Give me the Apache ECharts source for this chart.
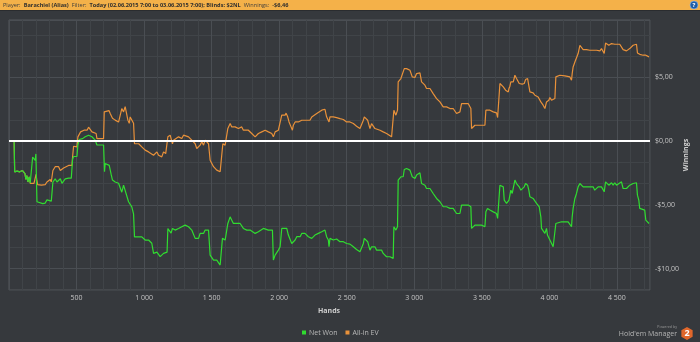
<!DOCTYPE html>
<html><head><meta charset="utf-8">
<script src="https://cdn.jsdelivr.net/npm/echarts@6/dist/echarts.min.js"></script>
<style>html,body{margin:0;padding:0;background:#36393d;}#c{width:700px;height:342px;}</style>
</head><body><div id="c"></div><script>
// ---- data (hands, winnings $) ----
const seriesNames = ['Net Won', 'All-in EV'];
const netWon = [[0,0],[38,0],[42,-2.4],[60,-2.35],[80,-2.4],[100,-2.3],[108,-2.4],[118,-2.55],[125,-3.0],[132,-2.7],[140,-3.2],[150,-2.8],[157,-3.3],[170,-3.45],[175,-1.25],[185,-1.1],[194,-1.5],[199,-1.0],[205,-1.1],[207,-4.75],[215,-4.9],[250,-4.9],[268,-4.85],[281,-4.6],[293,-4.5],[313,-4.7],[320,-4.7],[325,-3.2],[342,-2.95],[355,-3.2],[367,-3.3],[380,-2.95],[392,-3.3],[404,-3.2],[416,-2.95],[428,-2.8],[441,-2.9],[461,-2.9],[471,-1.4],[478,-1.2],[503,-1.2],[510,-0.3],[520,0.13],[545,0.2],[564,0.35],[589,0.47],[601,0.6],[614,0.35],[626,0.2],[638,0.08],[651,-0.3],[700,-0.3],[707,-2.4],[712,-1.75],[742,-1.9],[757,-2.65],[766,-3.05],[786,-3.2],[811,-3.3],[823,-3.3],[835,-4.0],[848,-3.45],[860,-3.6],[885,-4.75],[897,-4.9],[909,-5.15],[922,-5.7],[929,-7.5],[983,-7.5],[995,-7.6],[1008,-7.75],[1033,-7.75],[1057,-8.0],[1070,-8.8],[1082,-8.95],[1095,-8.7],[1107,-8.7],[1119,-9.05],[1131,-9.2],[1144,-8.8],[1170,-8.7],[1176,-6.85],[1186,-6.7],[1200,-7.2],[1210,-6.84],[1230,-6.97],[1255,-6.84],[1279,-6.71],[1304,-6.58],[1329,-6.71],[1341,-6.84],[1353,-6.97],[1366,-7.1],[1378,-7.62],[1390,-7.75],[1403,-7.62],[1415,-7.23],[1427,-7.36],[1440,-7.23],[1452,-6.97],[1464,-7.1],[1477,-6.97],[1489,-8.93],[1501,-9.06],[1514,-9.32],[1526,-9.45],[1538,-9.32],[1551,-9.45],[1563,-9.71],[1575,-9.84],[1580,-7.62],[1600,-7.75],[1612,-7.62],[1620,-6.45],[1629,-6.32],[1637,-5.93],[1649,-6.19],[1661,-6.45],[1674,-6.32],[1686,-6.45],[1698,-6.58],[1711,-6.45],[1723,-6.58],[1735,-6.84],[1748,-6.71],[1760,-6.97],[1772,-6.84],[1785,-6.97],[1797,-7.1],[1822,-7.23],[1834,-7.36],[1846,-7.1],[1859,-6.97],[1883,-6.84],[1920,-6.97],[1950,-6.97],[1957,-9.32],[1970,-8.93],[1982,-8.8],[1994,-8.54],[2007,-8.28],[2019,-6.84],[2031,-6.71],[2056,-6.84],[2068,-7.36],[2081,-7.49],[2093,-8.02],[2105,-7.88],[2118,-7.75],[2130,-7.49],[2142,-7.36],[2155,-7.49],[2167,-7.23],[2191,-7.23],[2216,-7.49],[2241,-7.62],[2265,-7.36],[2290,-7.23],[2315,-7.1],[2339,-6.97],[2351,-7.49],[2364,-7.75],[2369,-8.28],[2376,-7.62],[2401,-7.75],[2425,-7.67],[2450,-7.88],[2475,-7.88],[2499,-8.02],[2524,-8.07],[2536,-8.15],[2549,-8.28],[2561,-8.41],[2573,-8.49],[2586,-8.54],[2598,-8.67],[2610,-8.67],[2623,-8.02],[2630,-7.62],[2640,-7.75],[2655,-7.88],[2672,-8.54],[2684,-8.28],[2697,-8.15],[2709,-8.28],[2721,-8.54],[2734,-8.67],[2758,-8.54],[2770,-8.8],[2783,-8.8],[2795,-9.06],[2807,-8.93],[2820,-9.06],[2832,-9.19],[2844,-9.19],[2849,-6.71],[2857,-6.58],[2864,-6.97],[2876,-6.71],[2881,-3.05],[2894,-3.05],[2901,-2.79],[2911,-2.92],[2918,-2.79],[2926,-2.22],[2943,-2.14],[2955,-2.22],[2968,-2.27],[2980,-2.14],[2985,-2.79],[3005,-2.92],[3017,-2.66],[3029,-2.53],[3042,-2.48],[3054,-3.32],[3066,-3.32],[3079,-3.45],[3091,-3.71],[3103,-3.84],[3116,-3.71],[3128,-3.84],[3140,-4.1],[3153,-4.1],[3165,-4.49],[3177,-4.36],[3190,-4.75],[3202,-4.88],[3214,-5.14],[3227,-5.01],[3239,-5.14],[3251,-5.09],[3264,-5.27],[3276,-5.14],[3288,-5.27],[3301,-5.4],[3313,-5.67],[3325,-5.8],[3338,-5.67],[3350,-5.01],[3362,-4.88],[3375,-5.01],[3387,-4.88],[3399,-5.01],[3412,-4.88],[3419,-5.14],[3424,-6.84],[3436,-6.84],[3449,-6.58],[3461,-6.71],[3473,-6.58],[3486,-6.71],[3498,-6.58],[3523,-6.71],[3530,-5.54],[3542,-5.27],[3560,-5.4],[3572,-5.54],[3585,-5.54],[3597,-5.61],[3609,-5.67],[3617,-6.06],[3627,-5.93],[3634,-3.45],[3646,-3.45],[3659,-3.58],[3666,-4.62],[3676,-4.75],[3683,-4.88],[3696,-5.01],[3701,-4.62],[3708,-4.23],[3715,-3.84],[3725,-4.1],[3733,-4.23],[3745,-3.05],[3757,-3.32],[3770,-3.19],[3777,-3.58],[3789,-3.84],[3799,-3.79],[3814,-3.58],[3824,-3.32],[3839,-3.45],[3848,-3.84],[3856,-4.36],[3868,-4.36],[3880,-4.49],[3893,-4.62],[3905,-4.88],[3917,-4.88],[3925,-5.14],[3937,-5.93],[3942,-6.84],[3954,-6.97],[3967,-7.23],[3979,-6.84],[3986,-7.36],[3996,-7.49],[4004,-7.75],[4016,-7.88],[4028,-8.28],[4041,-8.15],[4048,-6.45],[4060,-6.32],[4090,-6.32],[4139,-6.32],[4152,-6.45],[4164,-6.71],[4169,-5.93],[4176,-5.27],[4189,-4.49],[4201,-4.1],[4213,-3.58],[4226,-3.32],[4238,-3.45],[4250,-3.58],[4263,-3.45],[4275,-3.58],[4287,-3.71],[4300,-3.58],[4312,-3.71],[4324,-3.58],[4336,-3.84],[4349,-3.71],[4361,-3.58],[4374,-3.71],[4386,-3.58],[4398,-3.45],[4406,-3.97],[4416,-3.19],[4430,-3.32],[4440,-3.45],[4448,-3.32],[4460,-3.26],[4472,-3.45],[4484,-3.26],[4497,-3.45],[4509,-3.32],[4534,-3.19],[4546,-3.71],[4571,-3.71],[4583,-3.58],[4595,-3.45],[4608,-3.39],[4620,-3.32],[4645,-3.26],[4652,-4.23],[4662,-4.62],[4669,-5.27],[4681,-5.4],[4706,-5.4],[4714,-6.19],[4726,-6.32],[4738,-6.45]];
const allInEV = [[0,0],[38,0],[42,-2.4],[60,-2.35],[80,-2.4],[100,-2.3],[108,-2.4],[118,-2.55],[125,-3.0],[132,-2.7],[140,-3.2],[150,-2.8],[157,-3.3],[170,-3.45],[185,-3.3],[194,-3.45],[200,-2.6],[205,-3.0],[212,-3.4],[240,-3.45],[268,-3.4],[281,-3.2],[293,-3.3],[305,-3.0],[313,-3.2],[320,-3.2],[325,-2.3],[342,-2.0],[355,-2.1],[367,-2.0],[380,-2.3],[392,-2.4],[404,-2.1],[416,-2.0],[441,-1.9],[466,-1.9],[471,-1.2],[478,-0.4],[503,-0.45],[510,0.34],[530,0.73],[555,0.86],[578,0.86],[589,1.1],[601,1.0],[614,0.73],[626,0.86],[645,0.6],[651,0.2],[700,0.2],[705,2.3],[712,2.4],[740,2.4],[750,2.15],[766,1.8],[786,1.65],[811,1.5],[823,1.65],[835,2.55],[848,2.3],[860,2.7],[870,2.8],[880,1.65],[890,1.4],[897,1.9],[909,1.9],[922,1.4],[929,-0.2],[960,-0.2],[983,-0.45],[995,-0.3],[1008,-0.7],[1020,-0.6],[1033,-0.84],[1045,-0.97],[1070,-1.1],[1082,-0.97],[1095,-0.84],[1107,-1.1],[1119,-1.23],[1131,-1.23],[1144,-0.84],[1160,-0.97],[1170,-0.97],[1176,0.34],[1181,0.21],[1193,0.47],[1205,0.34],[1210,-0.2],[1218,0.08],[1230,0.21],[1255,0.34],[1279,0.21],[1292,0.47],[1304,0.47],[1329,0.34],[1341,0.21],[1353,0.08],[1366,-0.05],[1378,-0.2],[1390,-0.57],[1403,-0.57],[1415,-0.31],[1427,-0.05],[1440,-0.31],[1452,0.08],[1464,-0.05],[1477,-0.2],[1489,-1.49],[1501,-1.62],[1514,-2.0],[1526,-2.14],[1538,-2.27],[1551,-2.14],[1563,-2.4],[1575,-2.53],[1583,-0.2],[1600,-0.31],[1612,-0.2],[1620,1.0],[1629,0.86],[1637,1.38],[1649,1.12],[1661,0.99],[1674,1.12],[1698,0.99],[1711,1.12],[1723,1.12],[1735,0.86],[1748,0.99],[1772,0.86],[1785,0.73],[1797,0.6],[1809,0.47],[1822,0.34],[1834,0.47],[1846,0.6],[1871,0.73],[1883,0.86],[1896,0.86],[1920,0.73],[1945,0.6],[1957,0.34],[1970,0.73],[1994,0.86],[2007,0.99],[2019,2.04],[2031,1.91],[2044,2.04],[2051,2.2],[2063,1.91],[2073,1.51],[2088,1.12],[2098,0.86],[2105,1.25],[2118,1.51],[2130,1.38],[2142,1.51],[2167,1.64],[2179,1.51],[2191,1.64],[2204,1.77],[2228,1.64],[2241,1.9],[2253,2.04],[2278,2.17],[2290,2.3],[2315,2.43],[2327,2.37],[2339,2.5],[2351,1.91],[2364,1.77],[2369,1.51],[2376,1.91],[2401,1.91],[2425,1.85],[2450,1.77],[2475,1.7],[2499,1.51],[2512,1.64],[2524,1.51],[2549,1.38],[2573,1.17],[2586,1.12],[2598,0.99],[2610,0.86],[2623,1.64],[2630,1.9],[2640,1.77],[2655,1.64],[2672,0.99],[2684,1.38],[2697,1.25],[2709,0.99],[2721,0.86],[2746,0.86],[2758,0.99],[2770,0.73],[2795,0.6],[2807,0.47],[2832,0.34],[2844,0.47],[2849,2.43],[2857,2.48],[2864,2.04],[2876,2.43],[2881,4.65],[2894,4.78],[2901,4.91],[2911,5.04],[2926,5.69],[2943,5.69],[2955,5.61],[2968,5.56],[2980,5.69],[2985,5.04],[3005,4.99],[3017,5.3],[3029,5.43],[3042,5.35],[3054,4.65],[3066,4.57],[3079,4.39],[3091,4.13],[3103,4.0],[3116,4.13],[3128,4.0],[3140,3.73],[3153,3.6],[3165,3.34],[3177,3.47],[3190,3.08],[3202,2.95],[3214,2.69],[3227,2.82],[3239,2.69],[3251,2.74],[3264,2.56],[3276,2.64],[3288,2.56],[3301,2.43],[3313,2.17],[3325,2.12],[3338,2.3],[3350,2.95],[3362,3.08],[3375,2.95],[3387,3.08],[3399,2.95],[3412,3.0],[3419,2.56],[3424,0.99],[3436,0.99],[3449,1.25],[3461,1.17],[3473,1.25],[3486,1.17],[3498,1.25],[3523,1.25],[3530,2.43],[3542,2.56],[3560,2.43],[3572,2.38],[3585,2.3],[3609,2.22],[3617,1.85],[3627,1.96],[3634,4.52],[3646,4.47],[3659,4.26],[3666,4.13],[3676,4.0],[3696,3.86],[3701,4.13],[3708,4.31],[3715,4.65],[3725,4.78],[3733,4.65],[3745,5.17],[3757,4.91],[3770,4.91],[3777,4.52],[3789,4.39],[3799,4.47],[3814,4.52],[3824,4.83],[3839,4.91],[3848,4.78],[3856,3.86],[3880,3.79],[3893,3.6],[3905,3.6],[3917,3.47],[3925,3.34],[3937,3.08],[3942,2.95],[3954,2.82],[3967,2.56],[3979,3.08],[3986,2.95],[3996,3.21],[4004,3.42],[4016,3.21],[4041,3.34],[4048,5.04],[4060,5.09],[4078,5.17],[4115,5.12],[4152,5.04],[4164,4.78],[4169,5.3],[4176,5.82],[4189,6.21],[4201,6.34],[4213,6.87],[4226,7.52],[4238,7.39],[4250,7.18],[4263,7.13],[4275,7.18],[4287,7.08],[4300,7.13],[4312,7.0],[4324,7.13],[4336,7.0],[4349,7.13],[4361,7.18],[4374,7.08],[4386,7.26],[4398,7.13],[4406,6.87],[4416,7.7],[4430,7.6],[4440,7.52],[4448,7.65],[4460,7.65],[4472,7.52],[4484,7.6],[4497,7.65],[4521,7.6],[4534,7.7],[4546,7.18],[4558,7.18],[4571,7.08],[4583,7.18],[4595,7.26],[4608,7.39],[4620,7.52],[4632,7.6],[4645,7.6],[4652,6.92],[4662,6.87],[4669,6.81],[4694,6.74],[4706,6.87],[4714,6.74],[4726,6.66],[4738,6.61]];
const xTickStep = 100, xLabelStep = 500, xMax = 4745;
const yTickStep = 5 / 3, yLabelStep = 5, yMin = -35 / 3, yMax = 9.5;
const headerTitle = '{n|Player:} {b|Barachiel (Alias)} {n|Filter:} {b|Today (02.06.2015 7:00 to 03.06.2015 7:00); Blinds: $2NL} {n|Winnings:} {b|-$6,46}';

// ---- chart ----
const FONT = '"Open Sans", "Noto Sans", sans-serif';
const isMult = (v, m) => Math.abs(v / m - Math.round(v / m)) < 1e-6;
const thousands = v => String(v).replace(/\B(?=(\d{3})+(?!\d))/g, ' ');
const money = v => { const r = Math.round(v / 5) * 5; return (r < 0 ? '-' : '') + '$' + Math.abs(r).toFixed(2).replace('.', ','); };
const MINOR = '#404448', MAJOR = '#4a4e53';
const GREEN = '#30dc30', ORANGE = '#e8913a';

const hex = [];
for (let i = 0; i < 6; i++) { const a = -Math.PI / 2 + i * Math.PI / 3; hex.push([687 + 6.5 * Math.cos(a), 333.5 + 6.5 * Math.sin(a)]); }

const chart = echarts.init(document.getElementById('c'));
chart.setOption({
  backgroundColor: '#36393d',
  animation: false,
  textStyle: { fontFamily: FONT },
  grid: { left: 9, right: 50, top: 20, bottom: 52, show: true, borderColor: '#54585c', borderWidth: 1 },
  xAxis: {
    type: 'value', min: 0, max: xMax, interval: xTickStep,
    axisLine: { show: false }, axisTick: { show: false },
    axisLabel: { color: '#c4c4c4', fontSize: 7, margin: 4, showMaxLabel: false,
      formatter: v => (v > 0 && isMult(v, xLabelStep)) ? thousands(v) : '' },
    splitLine: { show: true, showMinLine: true, showMaxLine: true, lineStyle: { color: [MAJOR, MINOR, MINOR, MINOR, MINOR], width: 1 } }
  },
  yAxis: {
    type: 'value', position: 'right', min: yMin, max: yMax, interval: yTickStep,
    axisLine: { show: false }, axisTick: { show: false },
    axisLabel: { color: '#c4c4c4', fontSize: 7, margin: 5, showMaxLabel: false,
      formatter: v => isMult(v, yLabelStep) ? money(v) : '' },
    splitLine: { show: true, showMinLine: true, showMaxLine: true, lineStyle: { color: [MINOR, MAJOR, MINOR], width: 1 } }
  },
  legend: {
    data: seriesNames, left: 302, top: 329, padding: 0, itemGap: 8,
    icon: 'rect', itemWidth: 4, itemHeight: 4,
    textStyle: { color: '#b8b8b8', fontSize: 7, padding: [0, 0, 0, -2] }
  },
  series: [
    { name: seriesNames[0], type: 'line', data: netWon, showSymbol: false, z: 3,
      lineStyle: { color: GREEN, width: 1.2 }, itemStyle: { color: GREEN },
      markLine: { silent: true, symbol: 'none', label: { show: false },
        lineStyle: { color: '#ffffff', width: 2, type: 'solid' }, data: [{ yAxis: 0 }] } },
    { name: seriesNames[1], type: 'line', data: allInEV, showSymbol: false, z: 2,
      lineStyle: { color: ORANGE, width: 1.2 }, itemStyle: { color: ORANGE } }
  ],
  graphic: [
    { type: 'rect', shape: { x: 0, y: 0, width: 700, height: 10 }, style: { fill: '#f4b149' }, silent: true },
    { type: 'rect', shape: { x: 0, y: 10, width: 700, height: 1 }, style: { fill: '#2a2c2f' }, silent: true },
    { type: 'text', x: 3, y: 5, silent: true, style: { text: headerTitle, verticalAlign: 'middle', fontFamily: FONT,
      rich: { n: { fontSize: 5.6, fill: '#3d3d3d', fontFamily: FONT }, b: { fontSize: 5.6, fontWeight: 'bold', fill: '#2e2e2e', fontFamily: FONT } } } },
    { type: 'circle', shape: { cx: 694, cy: 5, r: 4 }, style: { fill: '#1f5ea6', stroke: '#9cc0ea', lineWidth: 0.6 }, silent: true },
    { type: 'text', x: 694, y: 5.3, silent: true, style: { text: '?', fill: '#ffffff', fontSize: 6, fontWeight: 'bold', align: 'center', verticalAlign: 'middle', fontFamily: FONT } },
    { type: 'text', x: 329, y: 310.7, silent: true, style: { text: 'Hands', fill: '#cfcfcf', fontSize: 7, fontWeight: 'bold', align: 'center', verticalAlign: 'middle', fontFamily: FONT } },
    { type: 'text', x: 686, y: 155, rotation: Math.PI / 2, silent: true, style: { text: 'Winnings', fill: '#cfcfcf', fontSize: 7, fontWeight: 'bold', align: 'center', verticalAlign: 'middle', fontFamily: FONT } },
    { type: 'text', x: 677, y: 327.3, silent: true, style: { text: 'Powered by', fill: '#9a9a9a', fontSize: 3.6, align: 'right', verticalAlign: 'middle', fontFamily: FONT } },
    { type: 'text', x: 677, y: 333.6, silent: true, style: { text: "Hold'em Manager", fill: '#b4b4b4', fontSize: 7, align: 'right', verticalAlign: 'middle', fontFamily: FONT } },
    { type: 'polygon', shape: { points: hex }, style: { fill: '#e1672b' }, silent: true },
    { type: 'text', x: 687, y: 333.8, silent: true, style: { text: '2', fill: '#ffffff', fontSize: 9, fontWeight: 'bold', align: 'center', verticalAlign: 'middle', fontFamily: FONT } }
  ]
});
</script></body></html>
